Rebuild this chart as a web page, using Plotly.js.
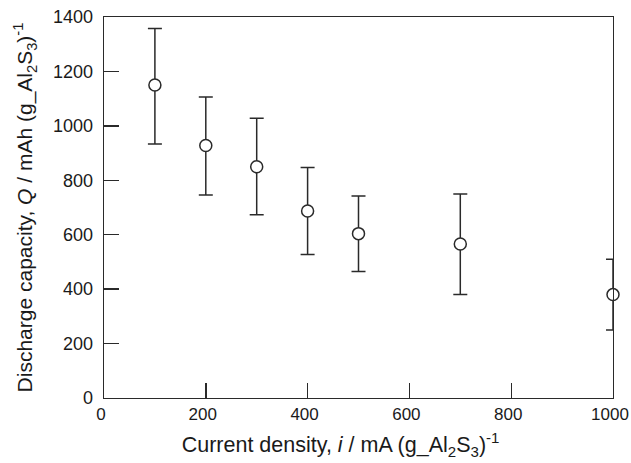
<!DOCTYPE html>
<html>
<head>
<meta charset="utf-8">
<script src="https://cdn.plot.ly/plotly-3.0.1.min.js"></script>
<style>html,body{margin:0;padding:0;background:#fff;}#chart{width:631px;height:463px;}</style>
</head>
<body>
<div id="chart"></div>
<script>
const currentDensity = [100, 200, 300, 400, 500, 700, 1000];
const capacity = [1150, 928, 850, 687, 604, 566, 380];
const capacityUpper = [1358, 1106, 1028, 847, 742, 750, 510];
const capacityLower = [933, 746, 673, 527, 465, 380, 250];
const xTicks = [0, 200, 400, 600, 800, 1000];
const yTicks = [0, 200, 400, 600, 800, 1000, 1200, 1400];

const errPlus = capacity.map((v, i) => capacityUpper[i] - v);
const errMinus = capacity.map((v, i) => v - capacityLower[i]);

const axisColor = '#2a2a2a';
const fontFam = 'Liberation Sans, Arial, sans-serif';

const trace = {
  x: currentDensity,
  y: capacity,
  type: 'scatter',
  mode: 'markers',
  cliponaxis: false,
  marker: {symbol: 'circle', size: 12, color: '#ffffff', line: {color: axisColor, width: 1.5}},
  error_y: {type: 'data', symmetric: false, array: errPlus, arrayminus: errMinus,
            color: axisColor, thickness: 1.5, width: 7}
};

const layout = {
  width: 631, height: 463,
  margin: {l: 104, r: 18, t: 17, b: 65},
  paper_bgcolor: '#fff', plot_bgcolor: '#fff',
  showlegend: false,
  font: {family: fontFam, size: 18, color: '#1a1a1a'},
  xaxis: {
    range: [0, 1000], tickvals: xTicks, ticktext: xTicks.map(String),
    ticks: 'inside', ticklen: 15, tickwidth: 1.4, tickcolor: axisColor,
    showline: true, linecolor: axisColor, linewidth: 1.4, mirror: true,
    showgrid: false, zeroline: false, ticklabeloverflow: 'allow', ticklabelshift: -3,
    tickfont: {family: fontFam, size: 17, color: '#1a1a1a'},
    title: {text: 'Current density, <i>i</i> / mA (g_Al<sub>2</sub>S<sub>3</sub>)<sup>-1</sup>&nbsp;&nbsp;&nbsp;&nbsp;&nbsp;&nbsp;',
            font: {family: fontFam, size: 21.5, color: '#1a1a1a'}, standoff: 14}
  },
  yaxis: {
    range: [0, 1400], tickvals: yTicks, ticktext: yTicks.map(String),
    ticks: 'inside', ticklen: 15, tickwidth: 1.4, tickcolor: axisColor,
    showline: true, linecolor: axisColor, linewidth: 1.4, mirror: true,
    showgrid: false, zeroline: false, ticklabelstandoff: 6,
    tickfont: {family: fontFam, size: 18, color: '#1a1a1a'},
    title: {text: 'Discharge capacity, <i>Q</i> / mAh (g_Al<sub>2</sub>S<sub>3</sub>)<sup>-1</sup>',
            font: {family: fontFam, size: 21, color: '#1a1a1a'}, standoff: 14}
  }
};

Plotly.newPlot('chart', [trace], layout, {displayModeBar: false, staticPlot: true});
</script>
</body>
</html>
